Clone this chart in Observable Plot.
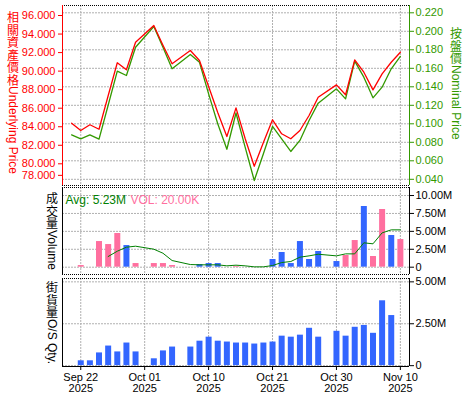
<!DOCTYPE html>
<html><head><meta charset="utf-8">
<script src="https://cdn.jsdelivr.net/npm/d3@7"></script>
<script src="https://cdn.jsdelivr.net/npm/@observablehq/plot@0.6"></script>
<style>
body{margin:0;background:#fff;}
#root{position:relative;width:475px;height:400px;overflow:hidden;background:#fff;}
#root svg{position:absolute;left:0;}
.vl{position:absolute;width:14px;display:flex;flex-direction:column;align-items:center;font-size:12px;white-space:nowrap;}
.vl .cjk{display:block;height:12.5px;line-height:12.5px;font-family:"Noto Sans CJK TC","Noto Sans CJK SC",sans-serif;}
.vl .lat{display:block;writing-mode:vertical-rl;line-height:14px;font-family:"Liberation Sans",Arial,sans-serif;}
</style></head>
<body><div id="root"></div>
<script>
// ---- data ----
const dates = ["2025-09-19","2025-09-22","2025-09-23","2025-09-24","2025-09-25","2025-09-26","2025-09-29","2025-09-30",
"2025-10-02","2025-10-03","2025-10-06","2025-10-08","2025-10-09","2025-10-10","2025-10-13","2025-10-14","2025-10-15",
"2025-10-16","2025-10-17","2025-10-20","2025-10-21","2025-10-22","2025-10-23","2025-10-24","2025-10-27","2025-10-28",
"2025-10-30","2025-10-31","2025-11-03","2025-11-04","2025-11-05","2025-11-06","2025-11-07","2025-11-10"];
const underlying = [84.38,83.59,84.21,83.73,87.34,90.90,90.14,93.12,94.92,92.80,90.79,92.22,91.15,88.34,85.54,82.95,86.04,
82.73,79.74,82.30,84.75,83.24,82.70,83.59,85.21,87.19,88.52,87.45,91.22,89.88,87.98,89.71,90.96,92.04];
const nominal = [0.0881,0.0838,0.0881,0.0834,0.1201,0.1569,0.1522,0.1828,0.2052,0.1828,0.1595,0.1749,0.1666,0.1324,0.1000,0.0725,0.1117,
0.0747,0.0387,0.0676,0.0971,0.0838,0.0701,0.0820,0.1036,0.1223,0.1378,0.1270,0.1677,0.1504,0.1281,0.1396,0.1595,0.1728];
const volume = [null,0.23,null,3.58,3.16,4.70,3.02,0.51,0.51,0.51,0.23,null,0.37,0.51,0.51,null,0.09,
null,null,null,1.07,2.05,0.51,3.58,1.07,2.19,0.79,1.63,3.72,8.47,1.49,8.05,4.42,3.86]; // millions
const volSide = [null,"P",null,"P","P","P","B","P","P","P","P",null,"B","B","B",null,"P",
null,null,null,"B","B","B","B","B","B","B","P","P","B","P","P","B","P"];
const avgVol = [null,null,null,null,1.49,2.23,2.79,2.93,2.51,1.95,0.93,0.37,0.33,0.33,0.33,0.19,0.28,
0.19,0.05,0.05,0.23,0.65,0.79,1.40,1.58,1.81,1.58,1.86,1.86,3.40,3.26,4.79,5.21,5.21]; // millions
const osQty = [null,0.29,0.29,0.76,1.17,0.82,1.35,0.82,0.41,0.88,1.11,1.11,1.46,1.70,1.46,1.41,1.35,
1.35,1.29,1.35,1.41,1.76,1.70,1.82,2.23,1.70,2.05,1.76,2.29,2.40,1.93,3.87,2.99,null]; // millions
const tickDates = ["2025-09-22","2025-10-01","2025-10-10","2025-10-21","2025-10-30","2025-11-10"];
const tickLabels = ["Sep 22\n2025","Oct 01\n2025","Oct 10\n2025","Oct 21\n2025","Oct 30\n2025","Nov 10\n2025"];
const redTicks = [80,82,84,86,88,90,92,94,96];
const redLastTick = [78];
const greenTicks = [0.04,0.06,0.08,0.10,0.12,0.14,0.16,0.18,0.20,0.22];
const volTicks = [0,2.5e6,5e6,7.5e6,10e6];
const osTicks = [0,2.5e6,5e6];
const legendTexts = ["Avg: 5.23M","VOL: 20.00K"];
const axisTitles = [["相關資產價格","Underlying Price"],["按盤價","Nominal Price"],["成交量","Volume"],["街貨量","O/S Qty."]];

// ---- helpers ----
const base = Date.parse("2025-09-22T00:00:00Z");
function wd(s){const days=Math.round((Date.parse(s+"T00:00:00Z")-base)/864e5);const w=Math.floor(days/7);const r=((days%7)+7)%7;return w*5+r;}
const rows = dates.map((d,k)=>({i:wd(d),u:underlying[k],n:nominal[k],v:volume[k]==null?null:volume[k]*1e6,s:volSide[k],
  a:avgVol[k]==null?null:avgVol[k]*1e6,o:osQty[k]==null?null:osQty[k]*1e6}));
const tickIdx = tickDates.map(wd);
const labelOf = new Map(tickIdx.map((t,k)=>[t,tickLabels[k]]));
const fmtM = v => v===0 ? "0" : (v/1e6).toFixed(2)+"M";
const f3 = d3.format(".3f");

const W=475, ML=62, MR=66;
const X = {type:"linear", domain:[-2,36]};
const font = {background:"transparent", fontFamily:"'Liberation Sans',Arial,sans-serif", fontSize:"11px", overflow:"visible"};
const grid = {stroke:"#b0b0b0", strokeDasharray:"2,1"};
const dotted = {stroke:"#000", strokeDasharray:"1,1"};
const GREEN="#339900", RED="#ff0000", PINK="#ff6f9f", BLUE="#3366ff", AVG="#008000";
const root = document.getElementById("root");
function place(svg, top){svg.style.top = top+"px"; root.appendChild(svg);}

// top panel - green (nominal) layer underneath
const gDom=[0.0333,0.2279], rDom=[77.66,97.08];
place(Plot.plot({width:W,height:190,marginLeft:ML,marginRight:MR,marginTop:5,marginBottom:5,
  x:{...X,axis:null}, y:{domain:gDom}, style:font,
  marks:[
    Plot.ruleY(greenTicks, grid),
    Plot.ruleX(tickIdx, grid),
    Plot.axisY(greenTicks,{anchor:"right",color:GREEN,tickSize:4,tickPadding:2,tickFormat:f3,label:null}),
    Plot.ruleX([36],{stroke:GREEN}),
    Plot.line(rows,{x:"i",y:"n",stroke:GREEN,strokeWidth:1.3})
  ]}),0);
// top panel - red (underlying) layer
place(Plot.plot({width:W,height:190,marginLeft:ML,marginRight:MR,marginTop:5,marginBottom:5,
  x:{...X,axis:null}, y:{domain:rDom}, style:font,
  marks:[
    Plot.ruleY(rDom, dotted),
    Plot.axisY(redTicks,{anchor:"left",color:RED,tickSize:4,tickPadding:3,tickFormat:f3,label:null}),
    Plot.axisY(redLastTick,{anchor:"left",color:RED,tickSize:4,tickPadding:3,tickFormat:f3,label:null,dy:-7}),
    Plot.ruleX([-2],{stroke:RED}),
    Plot.line(rows,{x:"i",y:"u",stroke:RED,strokeWidth:1.3})
  ]}),0);

// volume panel
const vDom=[-1.02e6,11.12e6];
const vr = rows.filter(d=>d.v!=null);
place(Plot.plot({width:W,height:92,marginLeft:ML,marginRight:MR,marginTop:2,marginBottom:3,
  x:{...X,axis:null}, y:{domain:vDom}, style:font,
  marks:[
    Plot.ruleY(volTicks, grid),
    Plot.ruleX(tickIdx, grid),
    Plot.ruleY(vDom, dotted),
    Plot.ruleX([-2,36],{stroke:"#000"}),
    Plot.ruleX(vr.filter(d=>d.s==="P"),{x:"i",y1:0,y2:"v",stroke:PINK,strokeWidth:6}),
    Plot.ruleX(vr.filter(d=>d.s==="B"),{x:"i",y1:0,y2:"v",stroke:BLUE,strokeWidth:6}),
    Plot.line(rows.filter(d=>d.a!=null),{x:"i",y:"a",stroke:AVG,strokeWidth:1}),
    Plot.axisY(volTicks,{anchor:"right",tickSize:4,tickPadding:2,tickFormat:fmtM,label:null}),
    Plot.text([legendTexts[0]],{frameAnchor:"top-left",dx:3,dy:8,fill:AVG,fontSize:12}),
    Plot.text([legendTexts[1]],{frameAnchor:"top-left",dx:68,dy:8,fill:PINK,fontSize:12})
  ]}),185);

// outstanding quantity panel
const oDom=[-0.05e6,5.2e6];
place(Plot.plot({width:W,height:124,marginLeft:ML,marginRight:MR,marginTop:2,marginBottom:34,
  x:X, y:{domain:oDom}, style:font,
  marks:[
    Plot.ruleY(osTicks, grid),
    Plot.ruleX(tickIdx, grid),
    Plot.ruleY([oDom[1]], dotted),
    Plot.ruleY([oDom[0]],{stroke:"#000"}),
    Plot.ruleX([-2,36],{stroke:"#000"}),
    Plot.ruleX(rows.filter(d=>d.o!=null),{x:"i",y1:0,y2:"o",stroke:BLUE,strokeWidth:6}),
    Plot.axisY(osTicks,{anchor:"right",tickSize:4,tickPadding:2,tickFormat:fmtM,label:null}),
    Plot.axisX(tickIdx,{anchor:"bottom",tickSize:4,tickPadding:2,tickFormat:d=>labelOf.get(d),lineHeight:1.05,label:null})
  ]}),276);

// vertical axis titles: CJK upright, Latin rotated clockwise
const titlePos = [
  {c:RED, l:6, top:11},
  {c:GREEN, l:449, top:27},
  {c:"#000", l:45, top:192},
  {c:"#000", l:45, top:281}
];
titlePos.forEach((o,k)=>{
  const d=document.createElement("div");d.className="vl";d.style.color=o.c;d.style.left=o.l+"px";d.style.top=o.top+"px";
  for(const ch of axisTitles[k][0]){const a=document.createElement("span");a.className="cjk";a.textContent=ch;d.appendChild(a);}
  const b=document.createElement("span");b.className="lat";b.textContent=axisTitles[k][1];
  d.appendChild(b);root.appendChild(d);
});
</script>
</body></html>
